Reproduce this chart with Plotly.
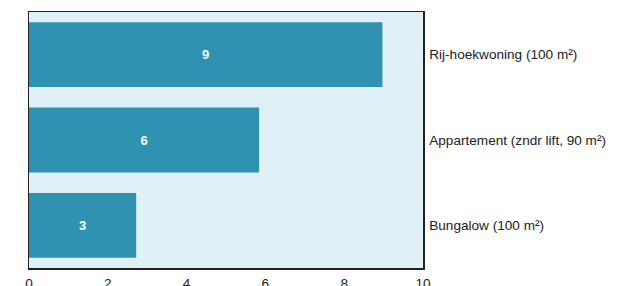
import plotly.graph_objects as go

categories = ["Bungalow (100 m²)", "Appartement (zndr lift, 90 m²)", "Rij-hoekwoning (100 m²)"]
values = [2.72, 5.84, 8.97]
labels = ["3", "6", "9"]
x_ticks = [0, 2, 4, 6, 8, 10]

fig = go.Figure(go.Bar(
    y=categories, x=values, orientation="h",
    marker=dict(color="#2f92b1", line=dict(width=0)),
    text=labels, textposition="inside", insidetextanchor="middle",
    textfont=dict(color="white", size=13, family="Liberation Sans, Arial", weight="bold"),
    hoverinfo="skip",
))

fig.update_layout(
    width=622, height=286,
    margin=dict(l=28.5, r=198.5, t=11.5, b=17.5, autoexpand=False),
    paper_bgcolor="white", plot_bgcolor="#dff0f6",
    bargap=0.24, showlegend=False,
    font=dict(family="Liberation Sans, Arial", size=13.6, color="#222222"),
)
fig.update_xaxes(range=[0, 10], tickvals=x_ticks, showgrid=False, zeroline=False,
                 showline=True, linecolor="#222222", linewidth=1.5, mirror=True,
                 ticks="outside", ticklen=2, tickcolor="rgba(0,0,0,0)", automargin=False,
                 tickfont=dict(size=13.6, color="#222222"))
fig.update_yaxes(side="right", showgrid=False, zeroline=False,
                 showline=True, linecolor="#222222", linewidth=1.5, mirror=True,
                 ticks="", ticklabelstandoff=2, automargin=False,
                 tickfont=dict(size=13.6, color="#222222"))

fig.write_html("out.html", config={"displayModeBar": False, "staticPlot": True},
               post_script="document.body.style.margin='0';")
